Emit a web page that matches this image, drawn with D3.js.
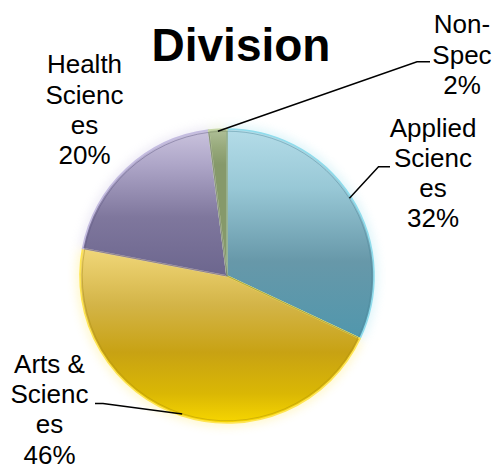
<!DOCTYPE html>
<html>
<head>
<meta charset="utf-8">
<script src="https://cdn.jsdelivr.net/npm/d3@7"></script>
<style>
  html, body { margin: 0; padding: 0; background: #ffffff; }
  svg text { font-family: "Liberation Sans", Arial, "DejaVu Sans", sans-serif; fill: #000; }
</style>
</head>
<body>
<div id="chart"></div>
<script>
// Share of enrolment by division (percent)
const categories = ["Applied Sciences", "Arts & Sciences", "Health Sciences", "Non-Spec"];
const values = [32, 46, 20, 2];
// Wrapped label lines as the category names break inside their boxes
const labelLines = [
  ["Applied", "Scienc", "es"],
  ["Arts &", "Scienc", "es"],
  ["Health", "Scienc", "es"],
  ["Non-", "Spec"]
];
const title = "Division";

// ---- layout ----
const W = 501, H = 469;
const cx = 227, cy = 276, R = 147;
const lineH = 30.2;
// label block anchor (centre x, first baseline) and leader elbow per slice
const labelLayout = [
  { x: 433, y: 136.5, leader: [[390, 166.7], [378.5, 166.7]] },
  { x: 49.5, y: 373,  leader: [[95, 403.5], [103, 403.5]] },
  { x: 84.5, y: 73.3, leader: null },
  { x: 462, y: 33.3,  leader: [[430, 61.7], [417, 61.7]] }
];
// vertical gradient stops per slice (offsets span the full pie height)
const sliceStops = [
  [[0, "#b4dce8"], [0.2, "#98c8d6"], [0.45, "#6798a9"], [0.72, "#5097ad"], [1, "#5cabc4"]],
  [[0, "#f8e8a0"], [0.42, "#efd576"], [0.6, "#d3b447"], [0.76, "#c8a213"], [0.9, "#dab704"], [1, "#f7d600"]],
  [[0, "#cbc4de"], [0.12, "#aea6c8"], [0.3, "#7f779d"], [0.5, "#6c668e"], [1, "#6c668e"]],
  [[0, "#b0c098"], [0.06, "#98aa7c"], [0.12, "#86996a"], [1, "#86996a"]]
];
const edgeColors = ["#8fdcec", "#ffe552", "#c4bce0", "#c8d8a8"];
const seamColors = ["#4a8598", "#a88a10", "#5c5680", "#6d7f55"];

const svg = d3.select("#chart").append("svg")
  .attr("width", W).attr("height", H)
  .attr("viewBox", `0 0 ${W} ${H}`);

const defs = svg.append("defs");
// gradients are in the pie group's local space (origin at the pie centre)
sliceStops.forEach((stops, i) => {
  const g = defs.append("linearGradient")
    .attr("id", "grad" + i)
    .attr("gradientUnits", "userSpaceOnUse")
    .attr("x1", 0).attr("y1", -R)
    .attr("x2", 0).attr("y2", R);
  stops.forEach(([o, c]) => g.append("stop").attr("offset", o).attr("stop-color", c));
});
defs.append("filter").attr("id", "glow")
  .attr("x", "-20%").attr("y", "-20%").attr("width", "140%").attr("height", "140%")
  .append("feGaussianBlur").attr("stdDeviation", 5);

const pie = d3.pie().sort(null).value(d => d)
  .startAngle(0).endAngle(2 * Math.PI);
const arcs = pie(values);
const arc = d3.arc().innerRadius(0).outerRadius(R);
const arcInner = d3.arc().innerRadius(0).outerRadius(R - 2.2);

const g = svg.append("g").attr("transform", `translate(${cx},${cy})`);

// soft halo around the pie
g.append("g").attr("filter", "url(#glow)").attr("opacity", 0.28)
  .selectAll("path").data(arcs).join("path")
  .attr("d", d3.arc().innerRadius(0).outerRadius(R + 4))
  .attr("fill", (d, i) => edgeColors[i]);

// slices
g.selectAll("path.slice").data(arcs).join("path")
  .attr("class", "slice")
  .attr("d", arc)
  .attr("fill", (d, i) => `url(#grad${i})`)
  .attr("stroke", (d, i) => edgeColors[i])
  .attr("stroke-width", 1.6)
  .attr("stroke-linejoin", "round");

// inner bevel seam
g.selectAll("path.seam").data(arcs).join("path")
  .attr("class", "seam")
  .attr("d", arcInner)
  .attr("fill", "none")
  .attr("stroke", (d, i) => seamColors[i])
  .attr("stroke-opacity", 0.55)
  .attr("stroke-width", 0.8);

// title
svg.append("text")
  .attr("x", 241).attr("y", 61)
  .attr("text-anchor", "middle")
  .style("font-size", "46px")
  .style("font-weight", "bold")
  .text(title);

// leader lines from slice edge (mid angle) to the label elbow
const edgePoint = (d, r) => {
  const a = (d.startAngle + d.endAngle) / 2;
  return [cx + r * Math.sin(a), cy - r * Math.cos(a)];
};
arcs.forEach((d, i) => {
  const L = labelLayout[i];
  if (!L.leader) return;
  const pts = [...L.leader, edgePoint(d, R - 2)];
  svg.append("path")
    .attr("d", d3.line()(pts))
    .attr("fill", "none")
    .attr("stroke", "#000")
    .attr("stroke-width", 1.5);
});

// data labels: wrapped category name plus percentage
const total = d3.sum(values);
arcs.forEach((d, i) => {
  const L = labelLayout[i];
  const lines = [...labelLines[i], Math.round(d.data / total * 100) + "%"];
  const t = svg.append("text")
    .attr("text-anchor", "middle")
    .style("font-size", "26px")
    .attr("aria-label", categories[i]);
  lines.forEach((s, k) => {
    t.append("tspan").attr("x", L.x).attr("y", L.y + k * lineH).text(s);
  });
});
</script>
</body>
</html>
